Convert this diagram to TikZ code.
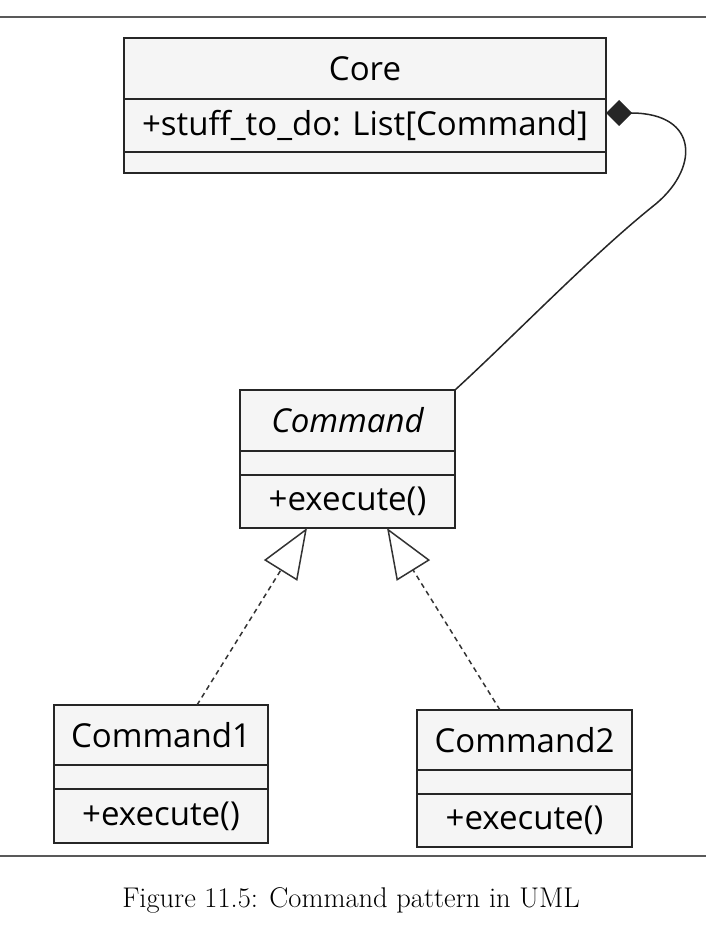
\documentclass[tikz,border=0pt]{standalone}
\usepackage{fontspec}
\setsansfont{Open Sans}
\usetikzlibrary{positioning,calc,arrows.meta}

\tikzset{
  classpart/.style={draw=black!85, fill=black!4, line width=2.2pt, outer sep=0pt, inner sep=0pt,
    font=\sffamily\fontsize{33}{38}\selectfont},
  rule/.style={draw=black!65, line width=1.5pt},
  composition/.style={draw=black!85, line width=1.5pt, {Diamond[length=26pt,width=26pt]}-},
  realize/.style={draw=black!80, line width=1.5pt, dash pattern=on 5pt off 4pt,
    -{Triangle[fill=white,length=50pt,width=39pt]}},
}

\begin{document}
\begin{tikzpicture}[x=1pt,y=-1pt]
   \useasboundingbox (0,0) rectangle (706,936);

   % Page rules
   \draw[rule] (0,17) -- (706,17);
   \draw[rule] (0,856) -- (706,856);

   % Core class
   \node[classpart, minimum width=482, minimum height=61] (core-title) at (365,68.5) {Core};
   \node[classpart, minimum width=482, minimum height=53, below=0pt of core-title] (core-attr) {+stuff\_to\_do: List[Command]};
   \node[classpart, minimum width=482, minimum height=21, below=0pt of core-attr] (core-ops) {};

   % Command interface
   \node[classpart, minimum width=215, minimum height=61] (cmd-title) at (347.5,420.5) {\itshape Command};
   \node[classpart, minimum width=215, minimum height=24, below=0pt of cmd-title] (cmd-attr) {};
   \node[classpart, minimum width=215, minimum height=53, below=0pt of cmd-attr] (cmd-ops) {+execute()};

   % Concrete commands
   \node[classpart, minimum width=214, minimum height=60] (cmdone-title) at (161,735) {Command1};
   \node[classpart, minimum width=214, minimum height=24, below=0pt of cmdone-title] (cmdone-attr) {};
   \node[classpart, minimum width=214, minimum height=54, below=0pt of cmdone-attr] (cmdone-ops) {+execute()};

   \node[classpart, minimum width=215, minimum height=60] (cmdtwo-title) at (524.5,740) {Command2};
   \node[classpart, minimum width=215, minimum height=24, below=0pt of cmdtwo-title] (cmdtwo-attr) {};
   \node[classpart, minimum width=215, minimum height=53, below=0pt of cmdtwo-attr] (cmdtwo-ops) {+execute()};

   % Composition
   \draw[composition] ($(core-attr.east)+(0,-12.5)$) .. controls +(94,0) and (700,170) .. (652,207)
       .. controls (590,257) and +(60,-55) .. (cmd-title.north east);

   % Realizations
   \draw[realize] ($(cmdone-title.north)+(36,0)$) -- ($(cmd-ops.south)+(-40.5,0)$);
   \draw[realize] ($(cmdtwo-title.north)+(-24.5,0)$) -- ($(cmd-ops.south)+(39.5,0)$);

   % Caption
   \node[font=\rmfamily\fontsize{28.5}{33}\selectfont] (caption) at (351,900) {Figure 11.5: Command pattern in UML};
\end{tikzpicture}
\end{document}
